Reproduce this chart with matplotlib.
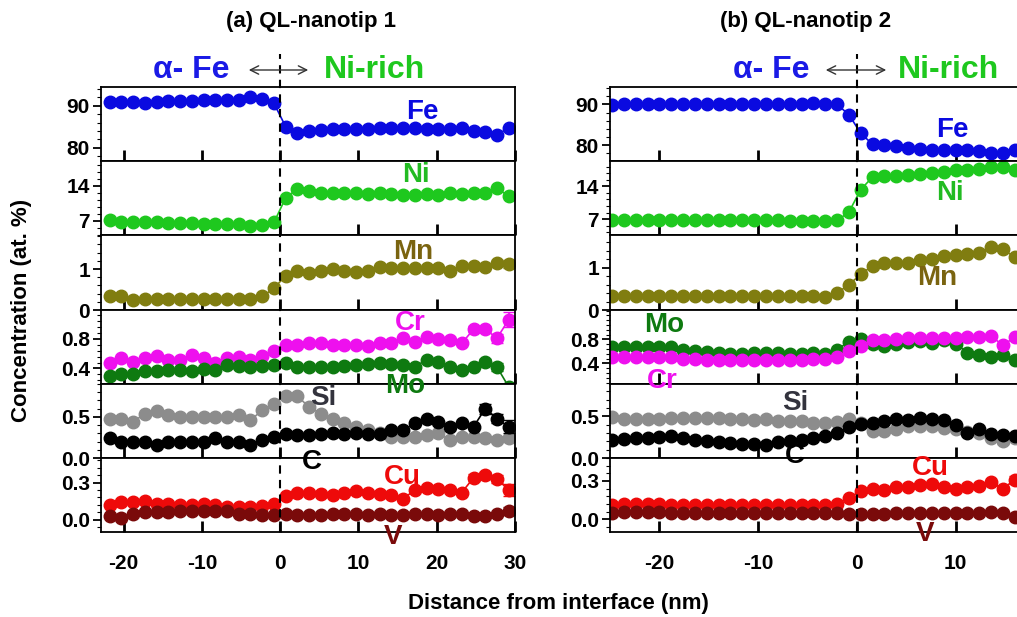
import matplotlib
matplotlib.use("Agg")
import matplotlib.pyplot as plt
from matplotlib.ticker import AutoMinorLocator

plt.rcParams['font.family'] = ['Liberation Sans', 'DejaVu Sans']
plt.rcParams['font.weight'] = 'bold'

W, H = 1017, 617

# ---- data: (a) QL-nanotip 1 ----
x_a = [-21.8, -20.3, -18.8, -17.3, -15.8, -14.3, -12.8, -11.3, -9.8, -8.3, -6.8, -5.3,
       -3.8, -2.3, -0.8, 0.7, 2.2, 3.7, 5.2, 6.7, 8.2, 9.7, 11.2, 12.7, 14.2, 15.7,
       17.2, 18.7, 20.2, 21.7, 23.2, 24.7, 26.2, 27.7, 29.2]
fe_a = [90.8, 91.0, 90.8, 90.6, 91.0, 91.2, 91.1, 91.2, 91.5, 91.5, 91.4, 91.5, 92.0, 91.7,
        90.6, 85.0, 83.6, 84.0, 84.2, 84.4, 84.4, 84.4, 84.5, 84.6, 84.6, 84.8, 84.6, 84.4,
        84.4, 84.5, 84.6, 84.0, 83.8, 83.0, 84.8]
ni_a = [7.2, 6.8, 6.8, 6.8, 6.7, 6.55, 6.55, 6.55, 6.35, 6.35, 6.35, 6.35, 6.0, 6.1, 6.7,
        11.6, 13.35, 13.0, 12.6, 12.6, 12.6, 12.6, 12.4, 12.6, 12.4, 12.2, 12.2, 12.4, 12.2,
        12.6, 12.4, 12.6, 12.6, 13.5, 11.9]
mn_a = [0.34, 0.33, 0.24, 0.28, 0.28, 0.28, 0.28, 0.28, 0.28, 0.26, 0.26, 0.28, 0.28, 0.33,
        0.53, 0.84, 0.96, 0.90, 0.94, 0.99, 0.96, 0.92, 0.96, 1.04, 1.02, 1.02, 1.02, 1.02,
        1.02, 0.94, 1.07, 1.07, 1.04, 1.14, 1.12]
cr_a = [0.47, 0.54, 0.49, 0.54, 0.57, 0.51, 0.51, 0.58, 0.54, 0.48, 0.54, 0.56, 0.52, 0.57,
        0.63, 0.72, 0.72, 0.74, 0.74, 0.72, 0.72, 0.72, 0.70, 0.74, 0.74, 0.81, 0.76, 0.82,
        0.80, 0.79, 0.74, 0.93, 0.93, 0.81, 1.06]
mo_a = [0.30, 0.33, 0.33, 0.36, 0.37, 0.38, 0.38, 0.36, 0.39, 0.38, 0.45, 0.43, 0.42, 0.43,
        0.45, 0.48, 0.42, 0.42, 0.42, 0.42, 0.43, 0.45, 0.46, 0.47, 0.46, 0.45, 0.42, 0.52,
        0.49, 0.42, 0.38, 0.42, 0.49, 0.42, 0.15]
si_a = [0.48, 0.48, 0.44, 0.54, 0.57, 0.52, 0.50, 0.50, 0.50, 0.50, 0.50, 0.52, 0.46, 0.58,
        0.66, 0.76, 0.75, 0.62, 0.54, 0.48, 0.42, 0.38, 0.34, 0.30, 0.26, 0.26, 0.26, 0.28,
        0.30, 0.22, 0.25, 0.25, 0.24, 0.22, 0.24]
c_a = [0.24, 0.20, 0.20, 0.20, 0.16, 0.20, 0.20, 0.20, 0.20, 0.24, 0.20, 0.20, 0.16, 0.22,
       0.26, 0.29, 0.28, 0.28, 0.29, 0.30, 0.29, 0.30, 0.29, 0.29, 0.34, 0.34, 0.42, 0.48,
       0.44, 0.38, 0.42, 0.38, 0.60, 0.48, 0.38]
cu_a = [0.12, 0.14, 0.14, 0.15, 0.13, 0.13, 0.12, 0.12, 0.13, 0.12, 0.10, 0.10, 0.10, 0.11,
        0.13, 0.19, 0.22, 0.22, 0.21, 0.20, 0.22, 0.23, 0.22, 0.21, 0.20, 0.17, 0.24, 0.26,
        0.25, 0.24, 0.22, 0.34, 0.36, 0.33, 0.24]
v_a = [0.03, 0.01, 0.05, 0.06, 0.06, 0.06, 0.07, 0.07, 0.07, 0.07, 0.07, 0.05, 0.05, 0.04,
       0.04, 0.05, 0.04, 0.04, 0.04, 0.05, 0.05, 0.05, 0.04, 0.05, 0.04, 0.04, 0.05, 0.05,
       0.04, 0.05, 0.05, 0.03, 0.03, 0.05, 0.07]

# ---- data: (b) QL-nanotip 2 ----
x_b = [-24.8, -23.6, -22.4, -21.2, -20.0, -18.8, -17.6, -16.4, -15.2, -14.0, -12.8, -11.6,
       -10.4, -9.2, -8.0, -6.8, -5.6, -4.4, -3.2, -2.0, -0.8, 0.4, 1.6, 2.8, 4.0, 5.2, 6.4,
       7.6, 8.8, 10.0, 11.2, 12.4, 13.6, 14.8, 16.0]
fe_b = [89.8, 90.0, 90.0, 90.0, 90.0, 90.0, 90.1, 90.1, 90.1, 90.1, 90.1, 90.1, 90.1, 90.1,
        90.1, 90.2, 90.2, 90.4, 90.2, 90.0, 87.5, 82.9, 80.2, 80.0, 79.8, 79.3, 79.0, 78.8,
        78.8, 78.8, 78.8, 78.5, 78.1, 78.1, 78.8]
ni_b = [6.85, 6.8, 6.8, 6.75, 6.8, 6.75, 6.75, 6.75, 6.75, 6.75, 6.75, 6.7, 6.7, 6.7, 6.7,
        6.65, 6.65, 6.6, 6.6, 6.7, 8.5, 13.3, 16.0, 16.1, 16.2, 16.45, 16.6, 16.8, 17.15,
        17.4, 17.5, 17.65, 18.1, 18.2, 17.5]
mn_b = [0.32, 0.32, 0.32, 0.32, 0.32, 0.32, 0.32, 0.32, 0.32, 0.32, 0.32, 0.32, 0.32, 0.32,
        0.32, 0.32, 0.32, 0.32, 0.30, 0.40, 0.60, 0.84, 1.05, 1.10, 1.12, 1.12, 1.18, 1.20,
        1.28, 1.29, 1.32, 1.34, 1.48, 1.44, 1.24]
cr_b = [0.50, 0.50, 0.50, 0.50, 0.50, 0.51, 0.48, 0.47, 0.455, 0.455, 0.455, 0.455, 0.455,
        0.455, 0.455, 0.455, 0.455, 0.47, 0.48, 0.51, 0.61, 0.69, 0.79, 0.79, 0.80, 0.82,
        0.82, 0.83, 0.83, 0.83, 0.84, 0.84, 0.855, 0.70, 0.84]
mo_b = [0.67, 0.67, 0.67, 0.68, 0.68, 0.68, 0.63, 0.61, 0.59, 0.58, 0.555, 0.555, 0.57,
        0.58, 0.57, 0.555, 0.555, 0.57, 0.555, 0.63, 0.76, 0.80, 0.73, 0.69, 0.73, 0.76,
        0.78, 0.74, 0.79, 0.73, 0.58, 0.54, 0.51, 0.54, 0.455]
si_b = [0.49, 0.47, 0.47, 0.47, 0.47, 0.48, 0.48, 0.48, 0.48, 0.48, 0.47, 0.47, 0.46, 0.47,
        0.45, 0.45, 0.44, 0.42, 0.42, 0.43, 0.47, 0.42, 0.33, 0.33, 0.35, 0.38, 0.39, 0.38,
        0.36, 0.35, 0.31, 0.30, 0.24, 0.20, 0.24]
c_b = [0.22, 0.23, 0.24, 0.24, 0.25, 0.26, 0.24, 0.22, 0.20, 0.19, 0.18, 0.17, 0.17, 0.16,
       0.19, 0.20, 0.22, 0.24, 0.26, 0.30, 0.37, 0.41, 0.42, 0.44, 0.47, 0.46, 0.48, 0.47,
       0.46, 0.40, 0.30, 0.35, 0.29, 0.28, 0.26]
cu_b = [0.11, 0.12, 0.12, 0.12, 0.12, 0.11, 0.11, 0.11, 0.11, 0.11, 0.11, 0.11, 0.11, 0.11,
        0.11, 0.11, 0.11, 0.11, 0.11, 0.12, 0.17, 0.22, 0.24, 0.23, 0.25, 0.255, 0.27, 0.28,
        0.255, 0.24, 0.25, 0.26, 0.29, 0.24, 0.31]
v_b = [0.05, 0.06, 0.06, 0.06, 0.06, 0.05, 0.05, 0.05, 0.05, 0.05, 0.05, 0.05, 0.05, 0.05,
       0.05, 0.05, 0.05, 0.05, 0.05, 0.05, 0.04, 0.04, 0.04, 0.045, 0.05, 0.05, 0.05, 0.05,
       0.05, 0.05, 0.05, 0.05, 0.06, 0.05, 0.02]

# error bars only on a few end points (index list, error values)
err_a = {
    'mn': ([33, 34], [0.06, 0.1]),
    'cr': ([31, 32, 33, 34], [0.04, 0.04, 0.06, 0.1]),
    'mo': ([32, 33], [0.04, 0.05]),
    'si': ([32, 33, 34], [0.03, 0.03, 0.04]),
    'c': ([32, 33, 34], [0.06, 0.06, 0.08]),
    'cu': ([31, 32, 33, 34], [0.03, 0.03, 0.03, 0.05]),
    'v': ([34], [0.03]),
}
err_b = {
    'cu': ([33, 34], [0.02, 0.03]),
    'si': ([33], [0.03]),
}

colors = {
    'fe': '#0a0ae0', 'ni': '#1ec81e', 'mn': '#807d10', 'cr': '#ee10ee', 'mo': '#0e7a10',
    'si': '#8c8c8c', 'c': '#000000', 'cu': '#ee0a0a', 'v': '#7a0a0a',
}
label_colors = dict(colors, mn='#7a6410', si='#33333d', ni='#22bb22')

data_a = {'fe': fe_a, 'ni': ni_a, 'mn': mn_a, 'cr': cr_a, 'mo': mo_a,
          'si': si_a, 'c': c_a, 'cu': cu_a, 'v': v_a}
data_b = {'fe': fe_b, 'ni': ni_b, 'mn': mn_b, 'cr': cr_b, 'mo': mo_b,
          'si': si_b, 'c': c_b, 'cu': cu_b, 'v': v_b}

# rows: elements, ylim, yticks, ticklabels
rows_a = [
    (['fe'], (76.8, 94.5), [80, 90], ['80', '90']),
    (['ni'], (4.2, 18.9), [7, 14], ['7', '14']),
    (['mn'], (0, 1.83), [0, 1], ['0', '1']),
    (['cr', 'mo'], (0.19, 1.19), [0.4, 0.8], ['0.4', '0.8']),
    (['si', 'c'], (0, 0.9), [0.0, 0.5], ['0.0', '0.5']),
    (['cu', 'v'], (-0.1, 0.5), [0.0, 0.3], ['0.0', '0.3']),
]
rows_b = [
    (['fe'], (76.1, 94.3), [80, 90], ['80', '90']),
    (['ni'], (3.6, 19.4), [7, 14], ['7', '14']),
    (['mn'], (0, 1.77), [0, 1], ['0', '1']),
    (['mo', 'cr'], (0.055, 1.29), [0.4, 0.8], ['0.4', '0.8']),
    (['si', 'c'], (0, 0.89), [0.0, 0.5], ['0.0', '0.5']),
    (['cu', 'v'], (-0.1, 0.48), [0.0, 0.3], ['0.0', '0.3']),
]

row_edges = [87, 161, 235, 310, 384, 458, 532]   # pixel rows, top to bottom

names = {'fe': 'Fe', 'ni': 'Ni', 'mn': 'Mn', 'cr': 'Cr', 'mo': 'Mo',
         'si': 'Si', 'c': 'C', 'cu': 'Cu', 'v': 'V'}
labels_a = {'fe': (422, 112), 'ni': (416, 175), 'mn': (413, 252), 'cr': (410, 323),
            'mo': (405, 386), 'si': (323, 398), 'c': (312, 462), 'cu': (402, 477),
            'v': (393, 537)}
labels_b = {'fe': (952, 130), 'ni': (950, 193), 'mn': (937, 278), 'mo': (664, 325),
            'cr': (662, 381), 'si': (795, 403), 'c': (795, 456), 'cu': (930, 468),
            'v': (925, 534)}


def fx(px):
    return px / W


def fy(py):
    return 1 - py / H


def draw_panel(fig, x, data, errs, rows, left_px, width_px, xlim, xticks):
    axes = []
    for i, (elems, ylim, yt, ytl) in enumerate(rows):
        top, bot = row_edges[i], row_edges[i + 1]
        ax = fig.add_axes([fx(left_px), fy(bot), width_px / W, (bot - top) / H])
        for el in elems:
            ax.plot(x, data[el], '-o', color=colors[el], ms=9, lw=1.2, mec=colors[el])
            if el in errs:
                idx, e = errs[el]
                ax.errorbar([x[j] for j in idx], [data[el][j] for j in idx], yerr=e,
                            fmt='none', ecolor=colors[el], elinewidth=1.2, capsize=4)
        ax.axvline(0, color='black', ls=(0, (4, 3)), lw=1.5,
                   ymax=1.45 if i == 0 else 1, clip_on=(i != 0))
        ax.set_xlim(*xlim)
        ax.set_ylim(*ylim)
        ax.set_yticks(yt)
        ax.set_yticklabels(ytl)
        ax.yaxis.set_minor_locator(AutoMinorLocator(5))
        ax.tick_params(axis='y', which='major', direction='out', length=6, width=1.3,
                       labelsize=15, pad=2)
        ax.tick_params(axis='y', which='minor', direction='out', length=3, width=0.8)
        ax.set_xticks(xticks)
        ax.tick_params(axis='x', which='major', direction='in', length=8, width=2,
                       labelsize=15, pad=16)
        if i < len(rows) - 1:
            ax.tick_params(axis='x', labelbottom=False)
        else:
            ax.set_xticklabels([str(t) for t in xticks])
        for sp in ax.spines.values():
            sp.set_linewidth(1.3)
        axes.append(ax)
    return axes


fig = plt.figure(figsize=(W / 100, H / 100), dpi=100)

draw_panel(fig, x_a, data_a, err_a, rows_a, 101, 414, (-22.9, 30), [-20, -10, 0, 10, 20, 30])
# panel (b) runs past the right edge of the picture, as in the original crop
draw_panel(fig, x_b, data_b, err_b, rows_b, 610, 543, (-25, 30), [-20, -10, 0, 10])

for labels in (labels_a, labels_b):
    for el, (px, py) in labels.items():
        fig.text(fx(px), fy(py), names[el], color=label_colors[el], fontsize=20,
                 fontweight='bold', ha='center', va='center', zorder=10)

# panel titles
fig.text(fx(311), fy(22), '(a) QL-nanotip 1', fontsize=16, ha='center', va='center')
fig.text(fx(806), fy(22), '(b) QL-nanotip 2', fontsize=16, ha='center', va='center')

# phase headers
for fe_x, ar0, ar1, ni_x in [(191, 246, 311, 374), (771, 823, 889, 949)]:
    fig.text(fx(fe_x), fy(70), 'α- Fe', color='#1a1ae6', fontsize=23, ha='center',
             va='center')
    fig.text(fx(ni_x), fy(70), 'Ni-rich', color='#1ec81e', fontsize=23, ha='center',
             va='center')
    fig.add_artist(matplotlib.patches.FancyArrowPatch(
        (fx(ar0), fy(70)), (fx(ar1), fy(70)), transform=fig.transFigure,
        arrowstyle='<->,head_length=6,head_width=3', color='#333333', lw=1))

fig.text(fx(22), fy(310), 'Concentration (at. %)', rotation=90, fontsize=16,
         ha='center', va='center')
fig.text(fx(558), fy(604), 'Distance from interface (nm)', fontsize=16,
         ha='center', va='center')

fig.savefig('out.png', dpi=100)
